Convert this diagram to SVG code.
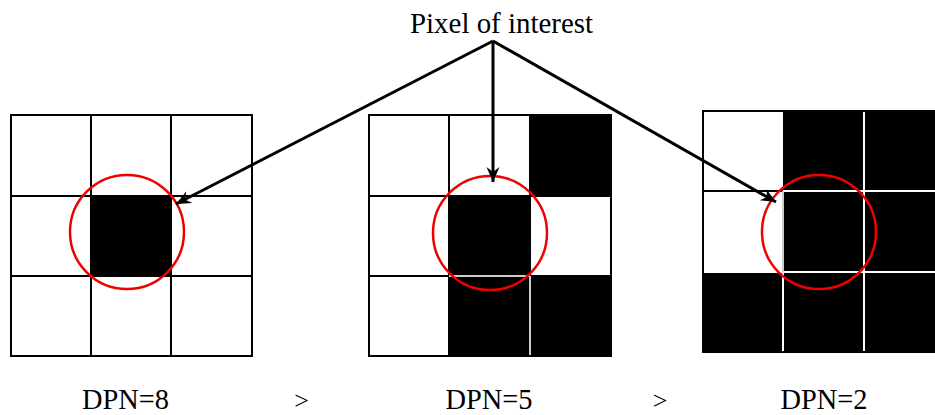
<svg xmlns="http://www.w3.org/2000/svg" width="935" height="415" viewBox="0 0 935 415">
<style>
.cell{fill:#fff;stroke:#000;stroke-width:2}
.blk{fill:#000;stroke:none}
.sep{stroke:#ccc;stroke-width:2;fill:none}
.wsep{stroke:#fff;stroke-width:2;fill:none}
.ring{fill:none;stroke:#f00000;stroke-width:2.5}
.arr{stroke:#000;stroke-width:3;fill:none;marker-end:url(#ah)}
.lbl{fill:#000}
</style>
<defs>
<marker id="ah" markerUnits="userSpaceOnUse" markerWidth="20" markerHeight="16" viewBox="-16 -8 18 16" refX="0" refY="0" orient="auto">
<path d="M0,0 L-15,-6.5 L-10,0 L-15,6.5 Z" fill="#000"/>
</marker>
</defs>
<rect width="935" height="415" fill="#fff"/>

<g id="grid-dpn8">
<rect class="cell" x="11" y="115" width="80" height="81"/>
<rect class="cell" x="91" y="115" width="80" height="81"/>
<rect class="cell" x="171" y="115" width="81" height="81"/>
<rect class="cell" x="11" y="196" width="80" height="80"/>
<rect class="cell" x="91" y="196" width="80" height="80" style="fill:#000"/>
<rect class="cell" x="171" y="196" width="81" height="80"/>
<rect class="cell" x="11" y="276" width="80" height="80"/>
<rect class="cell" x="91" y="276" width="80" height="80"/>
<rect class="cell" x="171" y="276" width="81" height="80"/>
<circle class="ring" cx="127" cy="232" r="57"/>
</g>

<g id="grid-dpn5">
<rect class="cell" x="369" y="115" width="80" height="81"/>
<rect class="cell" x="449" y="115" width="81" height="81"/>
<rect class="cell" x="530" y="115" width="81" height="81" style="fill:#000"/>
<rect class="cell" x="369" y="196" width="80" height="80"/>
<rect class="cell" x="449" y="196" width="81" height="80" style="fill:#000"/>
<rect class="cell" x="530" y="196" width="81" height="80"/>
<rect class="cell" x="369" y="276" width="80" height="80"/>
<rect class="blk" x="449" y="276" width="162" height="80"/>
<line class="sep" x1="449" y1="276" x2="530" y2="276"/>
<line class="sep" x1="530" y1="276" x2="530" y2="356"/>
<rect x="369" y="115" width="242" height="241" fill="none" stroke="#000" stroke-width="2"/>
<circle class="ring" cx="490" cy="233" r="57"/>
</g>

<g id="grid-dpn2">
<rect class="blk" x="703" y="111" width="241" height="241"/>
<rect x="703" y="111" width="80" height="161" fill="#fff"/>
<line x1="703" y1="191" x2="783" y2="191" stroke="#000" stroke-width="2"/>
<line class="wsep" x1="783" y1="191" x2="944" y2="191"/>
<line class="wsep" x1="703" y1="272" x2="944" y2="272"/>
<line class="wsep" x1="864" y1="111" x2="864" y2="352"/>
<line class="wsep" x1="783" y1="272" x2="783" y2="352"/>
<line class="sep" x1="783" y1="191" x2="783" y2="272"/>
<rect x="703" y="111" width="241" height="241" fill="none" stroke="#000" stroke-width="2"/>
<circle class="ring" cx="819" cy="232" r="57"/>
</g>

<g id="label-poi">
<text class="lbl" x="501.5" y="33" font-family="'Liberation Serif', 'Times New Roman', 'DejaVu Serif', serif" font-size="29" text-anchor="middle" textLength="183" lengthAdjust="spacingAndGlyphs">Pixel of interest</text>
</g>

<g id="connectors">
<line class="arr" x1="493" y1="41" x2="176" y2="204"/>
<line class="arr" x1="493" y1="41" x2="493" y2="182"/>
<line class="arr" x1="493" y1="41" x2="776" y2="202"/>
</g>

<g id="labels-bottom" font-family="'Liberation Serif', 'Times New Roman', 'DejaVu Serif', serif">
<text class="lbl" x="125.5" y="409" font-size="30" text-anchor="middle" textLength="87" lengthAdjust="spacingAndGlyphs">DPN=8</text>
<text class="lbl" x="301.5" y="409" font-size="26" text-anchor="middle">&gt;</text>
<text class="lbl" x="489" y="409" font-size="30" text-anchor="middle" textLength="87" lengthAdjust="spacingAndGlyphs">DPN=5</text>
<text class="lbl" x="660" y="409" font-size="26" text-anchor="middle">&gt;</text>
<text class="lbl" x="824" y="409" font-size="30" text-anchor="middle" textLength="87" lengthAdjust="spacingAndGlyphs">DPN=2</text>
</g>
</svg>
